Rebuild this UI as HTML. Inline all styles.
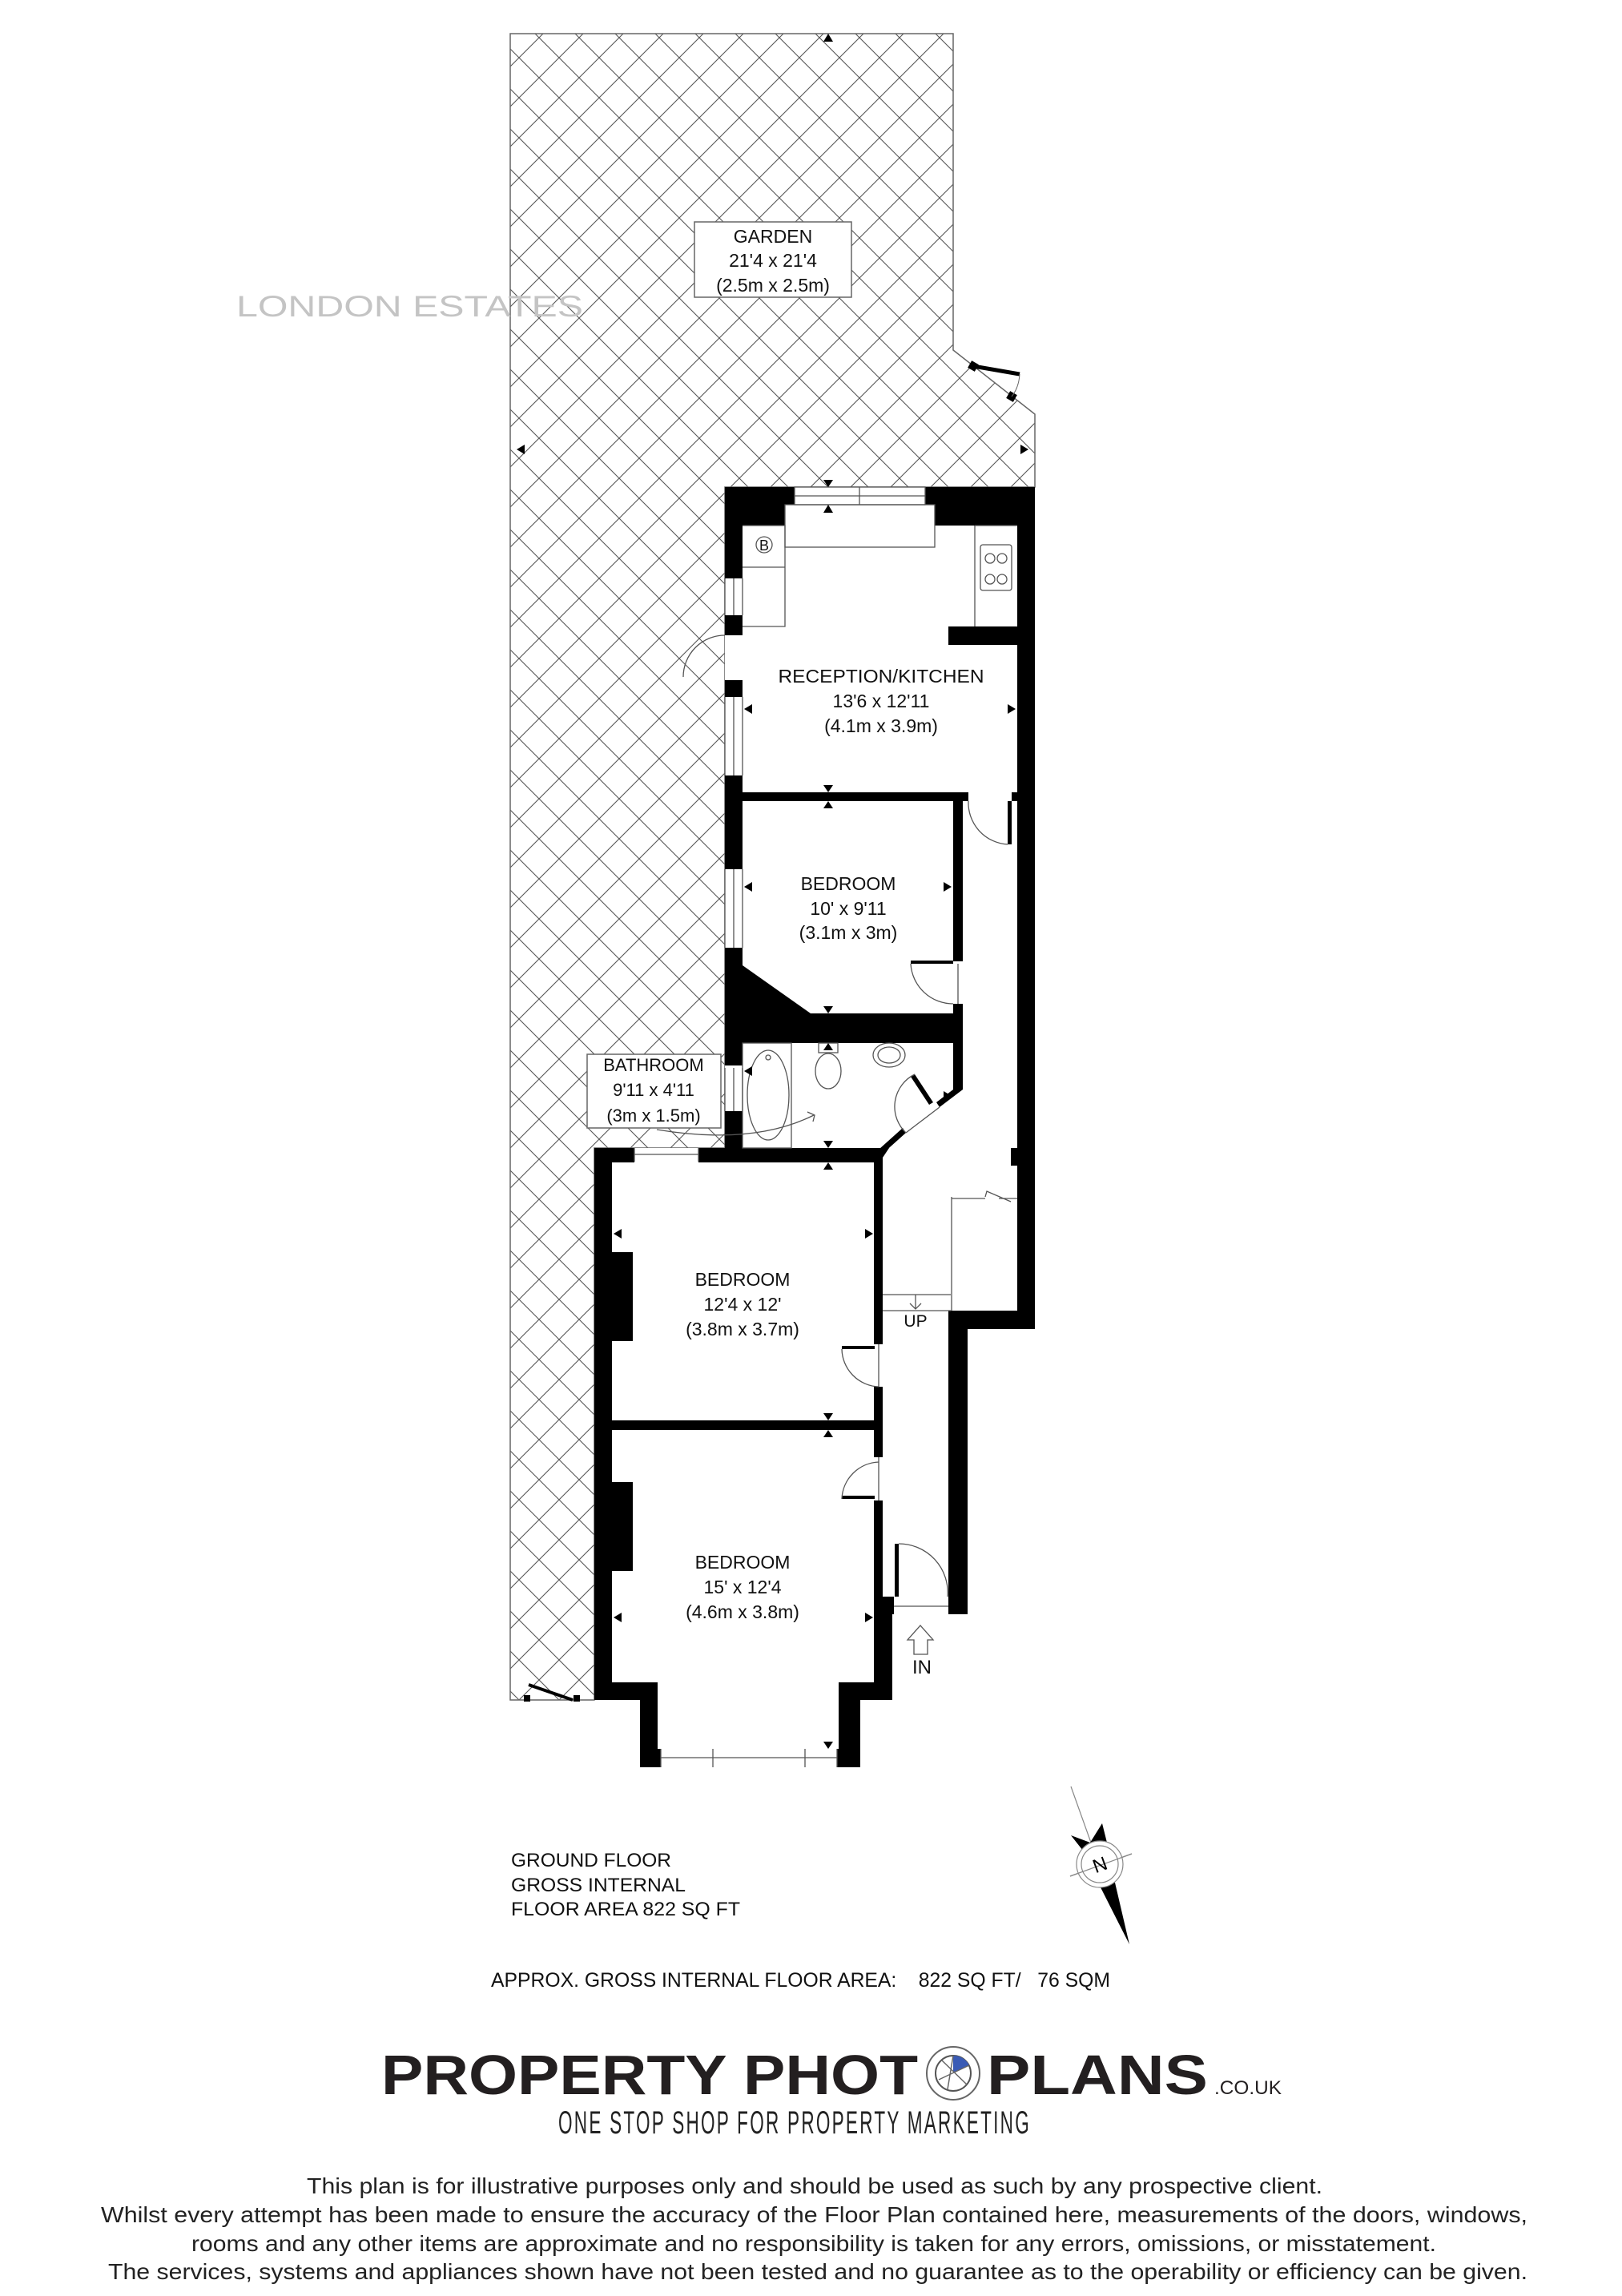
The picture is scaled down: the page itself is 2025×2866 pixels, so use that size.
<!DOCTYPE html>
<html><head><meta charset="utf-8"><style>
html,body{margin:0;padding:0;background:#fff}
svg{display:block}
text{font-family:"Liberation Sans",sans-serif}
</style></head><body>
<svg width="2025" height="2866" viewBox="0 0 2025 2866" xmlns="http://www.w3.org/2000/svg">
<defs>
<pattern id="h" width="50" height="50" patternUnits="userSpaceOnUse" patternTransform="translate(23,47)">
<path d="M0 0L50 50M50 0L0 50" stroke="#555" stroke-width="1.1" fill="none"/>
</pattern>
</defs>
<rect width="2025" height="2866" fill="#fff"/>
<path d="M637 42H1190V437L1292 517V608H905V1433H742V2122H637Z" fill="url(#h)" stroke="#666" stroke-width="1.5"/>
<text x="295" y="395" font-size="37" fill="#c4c4c4" textLength="433" lengthAdjust="spacingAndGlyphs">LONDON ESTATES</text>
<rect x="867" y="277" width="196" height="94" fill="#fff" stroke="#666" stroke-width="1.5"/>
<g font-size="23" text-anchor="middle" fill="#111">
<text x="965" y="303">GARDEN</text><text x="965" y="333">21'4 x 21'4</text><text x="965" y="364">(2.5m x 2.5m)</text>
</g>
<path d="M1215 457L1273 467" stroke="#000" stroke-width="5"/>
<rect x="1210" y="452" width="10" height="10" fill="#000" transform="rotate(30 1215 457)"/>
<rect x="1258" y="490" width="10" height="10" fill="#000" transform="rotate(30 1263 495)"/>
<path d="M1273 467Q1272 484 1263 495" stroke="#666" fill="none"/>
<path d="M660 2103L715 2122" stroke="#000" stroke-width="4"/>
<rect x="654" y="2116" width="8" height="8" fill="#000"/><rect x="716" y="2116" width="8" height="8" fill="#000"/>
<g fill="#000">
<path d="M1034 42l-6 10h12z"/><path d="M645 561l10-6v12z"/><path d="M1284 561l-10-6v12z"/>
</g>
<path d="M905 608H1292V1659H1208V2015H1117V2122H1074V2206H799V2122H742V1433H905Z" fill="#fff"/>
<g fill="#000">
<rect x="905" y="608" width="87" height="22"/><rect x="905" y="630" width="75" height="26"/>
<rect x="1155" y="608" width="137" height="22"/><rect x="1167" y="630" width="125" height="26"/>
<rect x="905" y="608" width="22" height="114"/><rect x="905" y="768" width="22" height="25"/><rect x="905" y="849" width="22" height="21"/>
<rect x="905" y="968" width="22" height="117"/>
<rect x="1270" y="608" width="22" height="1051"/>
<rect x="1184" y="782" width="86" height="23"/>
<rect x="905" y="989" width="304" height="11"/>
<rect x="1258" y="1000" width="5" height="54"/>
<rect x="1263" y="989" width="7" height="11"/>
<rect x="1190" y="1000" width="12" height="200"/><rect x="1137" y="1199" width="53" height="4"/>
<rect x="1190" y="1253" width="12" height="107"/>
<rect x="905" y="1183" width="22" height="147"/>
<path d="M927 1205L1012 1265H1202V1302H927Z"/>
<rect x="905" y="1387" width="22" height="63"/>
<path d="M1190 1300H1202V1360L1173 1382L1169 1376L1190 1360Z"/>
<path d="M1131 1414L1102 1440L1098 1434L1127 1408Z"/>
<path d="M1142 1341L1165 1376L1160 1379L1137 1344Z"/>
<path d="M1102 1433H1098V1456H1102Z"/>
<rect x="742" y="1433" width="50" height="18"/><rect x="872" y="1433" width="230" height="18"/>
<path d="M1091 1433H1110L1102 1445V1450H1091Z"/>
<rect x="742" y="1433" width="22" height="689"/>
<rect x="764" y="1563" width="26" height="111"/><rect x="764" y="1850" width="26" height="111"/>
<rect x="1091" y="1450" width="11" height="228"/><rect x="1051" y="1680" width="41" height="4"/>
<rect x="1091" y="1731" width="11" height="88"/>
<rect x="764" y="1773" width="338" height="12"/>
<rect x="1051" y="1867" width="41" height="4"/>
<rect x="1091" y="1873" width="11" height="122"/>
<rect x="1091" y="1993" width="25" height="22"/><rect x="1091" y="2015" width="23" height="107"/>
<rect x="1117" y="1927" width="5" height="66"/>
<rect x="742" y="2100" width="79" height="22"/><rect x="799" y="2100" width="22" height="106"/>
<rect x="799" y="2183" width="26" height="23"/><rect x="1045" y="2183" width="29" height="23"/>
<rect x="1047" y="2100" width="27" height="106"/><rect x="1047" y="2100" width="67" height="22"/>
<rect x="1187" y="1636" width="105" height="23"/><rect x="1184" y="1636" width="24" height="379"/>
<rect x="1262" y="1433" width="8" height="22"/>
</g>
<g stroke="#555" stroke-width="1.3" fill="none">
<rect x="992" y="608" width="163" height="22"/><path d="M992 619H1155M1073 608V630"/>
<rect x="980" y="630" width="187" height="53"/>
<path d="M927 656H980V782H927M927 708H980"/>
<path d="M1217 656V782M1217 656H1270"/>
<rect x="1224" y="680" width="39" height="57" rx="3"/>
<circle cx="1236" cy="697" r="6"/><circle cx="1251" cy="697" r="6"/><circle cx="1236" cy="723" r="6"/><circle cx="1251" cy="723" r="6"/>
<circle cx="954" cy="680" r="10"/>
<path d="M905 722V768M916 722V768M927 722V768"/>
<path d="M905 870V968M916 870V968M927 870V968"/>
<path d="M905 1085V1183M916 1085V1183M927 1085V1183"/>
<path d="M905 1333V1387M916 1333V1387M927 1333V1387"/>
<path d="M905 793A52 52 0 0 0 853 845"/>
<path d="M1209 1000A52 52 0 0 0 1258 1054"/>
<path d="M1137 1203A53 53 0 0 0 1190 1253M1196 1203V1253"/>
<rect x="927" y="1302" width="61" height="131"/>
<ellipse cx="959" cy="1367" rx="26" ry="56"/><circle cx="959" cy="1320" r="3"/>
<ellipse cx="1034" cy="1337" rx="16" ry="22"/><rect x="1022" y="1302" width="24" height="12"/>
<ellipse cx="1110" cy="1317" rx="20" ry="15"/><ellipse cx="1110" cy="1317" rx="14" ry="10"/>
<path d="M1142 1341A45 45 0 0 0 1131 1414M1131 1414L1173 1382"/>
<path d="M820 1410Q940 1430 1016 1392M1008 1388L1017 1392L1015 1400"/>
<path d="M792 1433V1450M872 1433V1450M792 1441H872"/>
<path d="M1051 1684A48 48 0 0 0 1097 1731M1097 1678V1731"/>
<path d="M1051 1871A48 48 0 0 1 1097 1825M1097 1819V1873"/>
<path d="M825 2183V2206M1045 2183V2206M825 2194H1045M890 2183V2206M1005 2183V2206"/>
<path d="M1122 1927A61 61 0 0 1 1183 1993M1116 2005H1184"/>
<path d="M1102 1616H1187M1102 1636H1187M1143 1616V1634M1136 1627L1143 1634L1150 1627"/>
<path d="M1188 1494V1636M1188 1496H1230M1247 1496H1270"/>
<path d="M1230 1494L1232 1487L1262 1500"/>
<path d="M1141 2065V2047H1133L1149 2029L1165 2047H1158V2065Z"/>
</g>
<text x="954" y="687" font-size="18" text-anchor="middle" fill="#111">B</text>
<g fill="#000">
<path d="M1034 630l-6 10h12z"/><path d="M1034 608l-6-9h12z"/>
<path d="M929 885l10-6v12z"/><path d="M1268 885l-10-6v12z"/>
<path d="M1034 989l-6-9h12z"/><path d="M1034 1000l-6 9h12z"/>
<path d="M929 1107l10-6v12z"/><path d="M1188 1107l-10-6v12z"/>
<path d="M1034 1265l-6-9h12z"/><path d="M1034 1302l-6 9h12z"/>
<path d="M929 1337l10-6v12z"/><path d="M1188 1368l-10-6v12z"/>
<path d="M1034 1433l-6-9h12z"/><path d="M1034 1451l-6 9h12z"/>
<path d="M766 1540l10-6v12z"/><path d="M1090 1540l-10-6v12z"/>
<path d="M1034 1773l-6-9h12z"/><path d="M1034 1785l-6 9h12z"/>
<path d="M766 2019l10-6v12z"/><path d="M1090 2019l-10-6v12z"/>
<path d="M1034 2183l-6-9h12z"/>
</g>
<g text-anchor="middle" fill="#111">
<text x="1100" y="852" font-size="23" textLength="257" lengthAdjust="spacingAndGlyphs">RECEPTION/KITCHEN</text>
<text x="1100" y="883" font-size="23">13'6 x 12'11</text>
<text x="1100" y="914" font-size="23">(4.1m x 3.9m)</text>
<text x="1059" y="1111" font-size="23">BEDROOM</text>
<text x="1059" y="1142" font-size="23">10' x 9'11</text>
<text x="1059" y="1172" font-size="23">(3.1m x 3m)</text>
<text x="927" y="1605" font-size="23">BEDROOM</text>
<text x="927" y="1636" font-size="23">12'4 x 12'</text>
<text x="927" y="1667" font-size="23">(3.8m x 3.7m)</text>
<text x="927" y="1958" font-size="23">BEDROOM</text>
<text x="927" y="1989" font-size="23">15' x 12'4</text>
<text x="927" y="2020" font-size="23">(4.6m x 3.8m)</text>
<text x="1143" y="1656" font-size="21">UP</text>
<text x="1151" y="2089" font-size="24">IN</text>
</g>
<rect x="733" y="1316" width="167" height="92" fill="#fff" stroke="#666" stroke-width="1.5"/>
<g text-anchor="middle" fill="#111" font-size="22">
<text x="816" y="1337">BATHROOM</text><text x="816" y="1368">9'11 x 4'11</text><text x="816" y="1400">(3m x 1.5m)</text>
</g>
<g>
<path d="M1337 2230L1362 2300M1336 2342L1413 2314" stroke="#888" stroke-width="1.2"/>
<path d="M1337 2291L1361 2300L1376 2276L1382 2300L1373 2310L1352 2310Z" fill="#000"/>
<path d="M1372 2352L1392 2350L1410 2427Z" fill="#000"/>
<circle cx="1373" cy="2327" r="29" fill="#fff" stroke="#888" stroke-width="1.2"/>
<circle cx="1373" cy="2327" r="23" fill="none" stroke="#888" stroke-width="1.2"/>
<path d="M1336 2342L1413 2314" stroke="#888" stroke-width="1.2"/>
<text x="1373" y="2336" font-size="24" text-anchor="middle" transform="rotate(-20 1373 2327)" fill="#000">N</text>
</g>
<g fill="#111" font-size="24">
<text x="638" y="2330" textLength="200" lengthAdjust="spacingAndGlyphs">GROUND FLOOR</text>
<text x="638" y="2361" textLength="218" lengthAdjust="spacingAndGlyphs">GROSS INTERNAL</text>
<text x="638" y="2391" textLength="286" lengthAdjust="spacingAndGlyphs">FLOOR AREA 822 SQ FT</text>
<text x="613" y="2480" font-size="25" textLength="773" lengthAdjust="spacingAndGlyphs" xml:space="preserve">APPROX. GROSS INTERNAL FLOOR AREA:    822 SQ FT/   76 SQM</text>
</g>
<g fill="#231f20" font-weight="bold" font-size="70">
<text x="476" y="2614" textLength="670" lengthAdjust="spacingAndGlyphs">PROPERTY PHOT</text>
<text x="1232" y="2614" textLength="276" lengthAdjust="spacingAndGlyphs">PLANS</text>
</g>
<text x="1516" y="2614" font-size="24" fill="#231f20" textLength="84" lengthAdjust="spacingAndGlyphs">.CO.UK</text>
<circle cx="1190" cy="2588" r="33" fill="#fff" stroke="#666" stroke-width="2"/>
<circle cx="1190" cy="2588" r="22" fill="none" stroke="#555" stroke-width="2"/>
<path d="M1190 2588L1190 2566A22 22 0 0 1 1210 2578Z" fill="#3a5bb5"/>
<path d="M1190 2566L1183 2608M1210 2578L1172 2596M1207 2602L1176 2572" stroke="#666" stroke-width="1.5"/>
<text x="697" y="2663" font-size="40" fill="#222" textLength="590" lengthAdjust="spacingAndGlyphs" style="letter-spacing:4px">ONE STOP SHOP FOR PROPERTY MARKETING</text>
<g fill="#222" font-size="28">
<text x="383" y="2738" textLength="1268" lengthAdjust="spacingAndGlyphs">This plan is for illustrative purposes only and should be used as such by any prospective client.</text>
<text x="126" y="2774" textLength="1781" lengthAdjust="spacingAndGlyphs">Whilst every attempt has been made to ensure the accuracy of the Floor Plan contained here, measurements of the doors, windows,</text>
<text x="239" y="2810" textLength="1554" lengthAdjust="spacingAndGlyphs">rooms and any other items are approximate and no responsibility is taken for any errors, omissions, or misstatement.</text>
<text x="135" y="2845" textLength="1772" lengthAdjust="spacingAndGlyphs">The services, systems and appliances shown have not been tested and no guarantee as to the operability or efficiency can be given.</text>
</g>
</svg>
</body></html>
